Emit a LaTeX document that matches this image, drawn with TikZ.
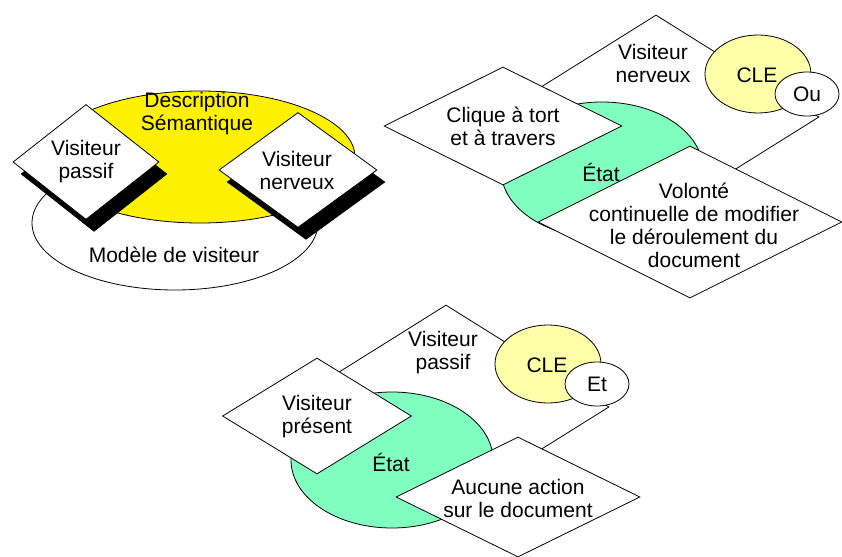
\documentclass[tikz,border=0pt]{standalone}
\usepackage{fontspec}
\setmainfont{Liberation Sans}
\usetikzlibrary{shapes.geometric}
\definecolor{cle}{RGB}{255,255,170}
\definecolor{etat}{RGB}{128,255,192}
\begin{document}
\begin{tikzpicture}[x=1pt,y=-1pt,
  outline/.style={draw=black, line width=0.8pt},
  diam/.style={diamond, outline, fill=white, inner sep=0pt},
  shadowdiam/.style={diamond, fill=black, draw=black, inner sep=0pt},
  oval/.style={ellipse, outline, inner sep=0pt},
  lbl/.style={align=center, inner sep=0pt, font=\fontsize{21}{23}\selectfont},
]
\useasboundingbox (0,0) rectangle (842,556);

% ---- Visitor model: two ellipses and two raised diamonds
\node[oval, fill=white, minimum width=286pt, minimum height=134pt] (model) at (175,223) {};
\node[oval, fill=yellow, minimum width=310pt, minimum height=132pt] (desc) at (200,157) {};
\node[shadowdiam, minimum width=146pt, minimum height=115pt] (passifS) at (94,174) {};
\node[diam, minimum width=146pt, minimum height=115pt] (passif) at (86,162) {};
\node[shadowdiam, minimum width=158pt, minimum height=115pt] (nervS) at (306,182) {};
\node[diam, minimum width=158pt, minimum height=115pt] (nerv) at (298,170) {};
\node[lbl] (descT) at (197,114) {Description\\Sémantique};
\node[lbl] (passifT) at (86,162) {Visiteur\\passif};
\node[lbl] (nervT) at (297,170) {Visiteur\\nerveux};
\node[lbl] (modelT) at (174,255) {Modèle de visiteur};

% ---- Nervous visitor
\node[diam, minimum width=326pt, minimum height=204pt] (nervB) at (656,117) {};
\node[lbl] (nervBT) at (653,63) {Visiteur\\nerveux};
\node[oval, fill=cle, minimum width=106pt, minimum height=78pt] (cleA) at (758,74) {};
\node[oval, fill=white, minimum width=64pt, minimum height=44pt] (ou) at (807,94) {};
\node[lbl] (cleAT) at (757,75) {CLE};
\node[lbl] (ouT) at (807,94) {Ou};
\node[oval, fill=etat, minimum width=202pt, minimum height=136pt] (etatA) at (602,170) {};
\node[diam, minimum width=238pt, minimum height=118pt] (clique) at (503,126) {};
\node[diam, minimum width=304pt, minimum height=152pt] (volonte) at (690,222) {};
\node[lbl] (cliqueT) at (503,126) {Clique à tort\\et à travers};
\node[lbl] (etatAT) at (601,172) {État};
\node[lbl] (volonteT) at (694,225) {Volonté\\continuelle de modifier\\le déroulement du\\document};

% ---- Passive visitor
\node[diam, minimum width=326pt, minimum height=204pt] (passifB) at (446,407) {};
\node[lbl] (passifBT) at (443,353) {Visiteur\\passif};
\node[oval, fill=cle, minimum width=106pt, minimum height=78pt] (cleB) at (548,364) {};
\node[oval, fill=white, minimum width=64pt, minimum height=44pt] (et) at (597,384) {};
\node[lbl] (cleBT) at (547,365) {CLE};
\node[lbl] (etT) at (597,384) {Et};
\node[oval, fill=etat, minimum width=202pt, minimum height=136pt] (etatB) at (392,460) {};
\node[diam, minimum width=189pt, minimum height=116pt] (present) at (317,416) {};
\node[diam, minimum width=244pt, minimum height=120pt] (aucune) at (518,497) {};
\node[lbl] (presentT) at (317,417) {Visiteur\\présent};
\node[lbl] (etatBT) at (391,462) {État};
\node[lbl] (aucuneT) at (518,498) {Aucune action\\sur le document};
\end{tikzpicture}
\end{document}
